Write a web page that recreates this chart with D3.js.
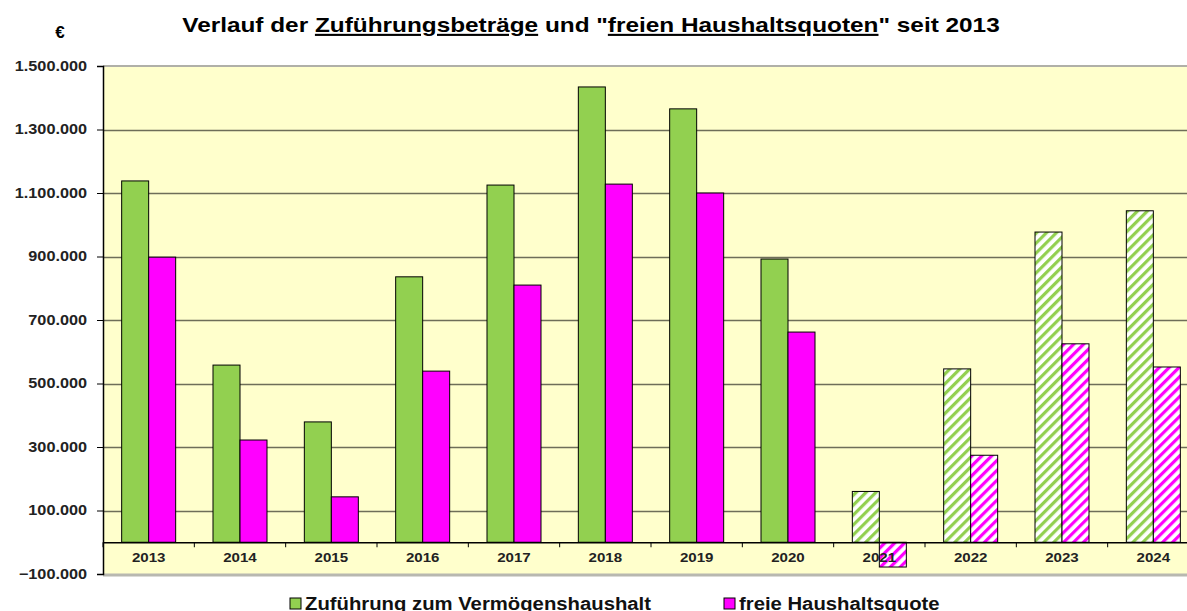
<!DOCTYPE html>
<html>
<head>
<meta charset="utf-8">
<script src="https://cdn.jsdelivr.net/npm/d3@7"></script>
<style>
body { margin: 0; background: #fff; }
svg { display: block; font-family: Arial, "Liberation Sans", sans-serif; }
</style>
</head>
<body>
<svg id="chart" width="1187" height="611"></svg>
<script>
// data
var years = ["2013","2014","2015","2016","2017","2018","2019","2020","2021","2022","2023","2024"];
var zufuehrung = [1138000, 558000, 379000, 836000, 1125000, 1434000, 1365000, 892000, 160000, 546000, 977000, 1044000];
var freieQuote = [898000, 322000, 143000, 539000, 810000, 1128000, 1100000, 662000, -78000, 274000, 625000, 552000];
var planned = ["2021","2022","2023","2024"]; // hatched bars
var yTicks = [-100000, 100000, 300000, 500000, 700000, 900000, 1100000, 1300000, 1500000];

var green = "#92d050", magenta = "#ff00ff";

var svg = d3.select("#chart");
// note: "top" is taken by window.top, so plot edges get their own names
var pLeft = 103, pRight = 1199, pTop = 66, pBottom = 575;
var SX = 1.16; // the original text is drawn a bit wider than Arial

var x = d3.scaleBand().domain(years).range([pLeft, pRight]);
var y = d3.scaleLinear().domain([-100000, 1500000]).range([574, pTop]);
var barW = 27;

var fmt = function(v){ return d3.format(",")(v).replace(/,/g, "."); };

// stretch text horizontally, keeping its anchor point
function stretch(sel){
    sel.each(function(){
        var t = d3.select(this);
        t.attr("x", (+t.attr("x") || 0) / SX).attr("transform", "scale(" + SX + ",1)");
    });
}

// hatch patterns
var defs = svg.append("defs");
function hatch(id, col){
    var p = defs.append("pattern").attr("id", id)
        .attr("patternUnits", "userSpaceOnUse")
        .attr("width", 7).attr("height", 7)
        .attr("patternTransform", "rotate(45)");
    p.append("rect").attr("width", 7).attr("height", 7).attr("fill", "#fff");
    p.append("rect").attr("width", 3.2).attr("height", 7).attr("fill", col);
}
hatch("hg", green);
hatch("hm", magenta);

// plot background
svg.append("rect").attr("x", pLeft).attr("y", pTop)
    .attr("width", pRight - pLeft).attr("height", pBottom - pTop)
    .attr("fill", "#ffffcc");
svg.append("line").attr("x1", pLeft).attr("x2", pRight).attr("y1", pTop).attr("y2", pTop)
    .attr("stroke", "#b0b0a8").attr("stroke-width", 2);
svg.append("line").attr("x1", pLeft).attr("x2", pRight).attr("y1", pBottom).attr("y2", pBottom)
    .attr("stroke", "#b8b8b0").attr("stroke-width", 3);

// grid
svg.append("g").selectAll("line").data(yTicks.filter(function(d){ return d > -100000 && d < 1500000; }))
    .enter().append("line")
    .attr("x1", pLeft).attr("x2", pRight)
    .attr("y1", function(d){ return Math.round(y(d)) + 0.5; })
    .attr("y2", function(d){ return Math.round(y(d)) + 0.5; })
    .attr("stroke", "#6e6e58").attr("stroke-width", 1.5);

// bars
var series = [
    {vals: zufuehrung, col: green, pat: "url(#hg)", off: 0},
    {vals: freieQuote, col: magenta, pat: "url(#hm)", off: 1}
];
series.forEach(function(s){
    svg.append("g").selectAll("rect").data(years).enter().append("rect")
        .attr("x", function(d){ return x(d) + x.bandwidth()/2 - barW + s.off*barW; })
        .attr("y", function(d, i){ return y(Math.max(0, s.vals[i])); })
        .attr("width", barW)
        .attr("height", function(d, i){ return Math.abs(y(s.vals[i]) - y(0)); })
        .attr("fill", function(d){ return planned.indexOf(d) >= 0 ? s.pat : s.col; })
        .attr("stroke", "#000").attr("stroke-width", 1);
});

// x axis at zero
var xAxis = d3.axisBottom(x).tickSize(0).tickPadding(0).tickFormat("");
var gx = svg.append("g").attr("transform", "translate(0," + y(0) + ")").call(xAxis);
gx.select(".domain").attr("stroke", "#000").attr("stroke-width", 1.5);
gx.selectAll(".tk").data(d3.range(years.length + 1)).enter().append("line")
    .attr("x1", function(i){ return pLeft + i*x.step(); })
    .attr("x2", function(i){ return pLeft + i*x.step(); })
    .attr("y1", 0).attr("y2", 5).attr("stroke", "#000");
gx.selectAll(".lbl").data(years).enter().append("text")
    .attr("x", function(d){ return x(d) + x.bandwidth()/2; })
    .attr("y", 20).attr("text-anchor", "middle")
    .attr("font-size", 13).attr("font-weight", "bold").attr("fill", "#222")
    .text(function(d){ return d; })
    .call(stretch);

// y axis
var yAxis = d3.axisLeft(y).tickValues(yTicks).tickSize(6).tickPadding(10).tickFormat(fmt);
var gy = svg.append("g").attr("transform", "translate(" + pLeft + ",0)").call(yAxis);
gy.select(".domain").attr("stroke", "#000").attr("stroke-width", 1.5);
gy.selectAll(".tick line").attr("stroke", "#000");
gy.selectAll(".tick text").attr("font-size", 14).attr("font-weight", "bold")
    .attr("fill", "#222").attr("font-family", "Arial, 'Liberation Sans', sans-serif")
    .call(stretch);

// title
var title = svg.append("text").attr("x", 591).attr("y", 32).attr("text-anchor", "middle")
    .attr("font-size", 21).attr("font-weight", "bold").attr("fill", "#000");
title.append("tspan").text("Verlauf der ");
title.append("tspan").attr("text-decoration", "underline").text("Zuführungsbeträge");
title.append("tspan").text(" und \"");
title.append("tspan").attr("text-decoration", "underline").text("freien Haushaltsquoten");
title.append("tspan").text("\" seit 2013");
title.call(stretch);

svg.append("text").attr("x", 60).attr("y", 38).attr("text-anchor", "middle")
    .attr("font-size", 17).attr("font-weight", "bold").text("€");

// legend
var legend = [
    {name: "Zuführung zum Vermögenshaushalt", col: green, lx: 290},
    {name: "freie Haushaltsquote", col: magenta, lx: 724}
];
legend.forEach(function(l){
    svg.append("rect").attr("x", l.lx).attr("y", 598).attr("width", 11).attr("height", 11)
        .attr("fill", l.col).attr("stroke", "#000");
    svg.append("text").attr("x", l.lx + 15).attr("y", 610)
        .attr("font-size", 17.5).attr("font-weight", "bold").attr("fill", "#111").text(l.name)
        .call(stretch);
});
</script>
</body>
</html>
